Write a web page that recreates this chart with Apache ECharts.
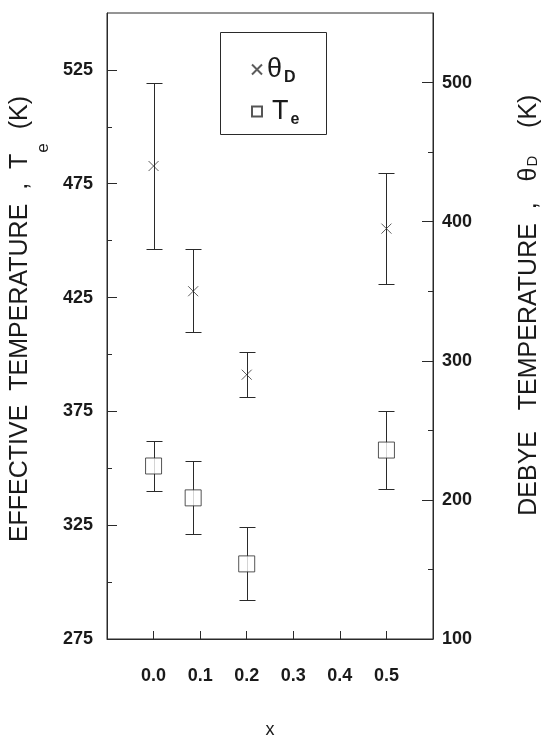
<!DOCTYPE html>
<html><head><meta charset="utf-8">
<script src="https://cdn.jsdelivr.net/npm/echarts@6/dist/echarts.min.js"></script>
<style>html,body{margin:0;padding:0;background:#fff}#c{width:550px;height:735px}</style>
</head><body><div id="c"></div>
<script>
// ---- data ----
const xValues    = [0.0, 0.085, 0.2, 0.5];
const thetaD     = [440, 350, 290, 395];
const thetaDLow  = [380, 321, 274, 355];
const thetaDHigh = [500, 380, 306, 435];
const Te         = [351, 337, 308, 358];
const TeLow      = [340, 321, 292, 341];
const TeHigh     = [362, 353, 324, 375];
const xTicks          = [0.0, 0.1, 0.2, 0.3, 0.4, 0.5];
const leftMajorTicks  = [275, 325, 375, 425, 475, 525];
const leftMinorTicks  = [300, 350, 400, 450, 500];
const rightMajorTicks = [100, 200, 300, 400, 500];
const rightMinorTicks = [150, 250, 350, 450];

const FONT = "'Liberation Sans', Arial, sans-serif";
const INK = '#1a1a1a';
const LINE = '#2a2a2a';

const chart = echarts.init(document.getElementById('c'), null, {renderer: 'canvas'});

function errSeries(yIdx, low, high) {
  return {
    type: 'custom', yAxisIndex: yIdx, silent: true, z: 2,
    data: xValues.map((x, i) => [x, low[i], high[i]]),
    encode: {x: 0, y: [1, 2]},
    renderItem: function (params, api) {
      const x = api.value(0);
      const lo = api.coord([x, api.value(1)]);
      const hi = api.coord([x, api.value(2)]);
      const w = 8;
      const px = Math.round(lo[0]) + 0.5;
      const ly = Math.round(lo[1]) + 0.5, hy = Math.round(hi[1]) + 0.5;
      const style = {stroke: LINE, lineWidth: 1, fill: null};
      return {type: 'group', children: [
        {type: 'line', shape: {x1: px, y1: ly, x2: px, y2: hy}, style: style},
        {type: 'line', shape: {x1: px - w, y1: ly, x2: px + w, y2: ly}, style: style},
        {type: 'line', shape: {x1: px - w, y1: hy, x2: px + w, y2: hy}, style: style}
      ]};
    }
  };
}

const option = {
  animation: false,
  backgroundColor: '#fff',
  grid: {left: 107, right: 117, top: 13, bottom: 96, show: true, borderColor: LINE, borderWidth: 1,
         containLabel: false, outerBoundsMode: 'none'},
  xAxis: {
    type: 'value', min: -0.1, max: 0.6, position: 'bottom',
    axisLine: {show: true, onZero: false, lineStyle: {color: LINE, width: 1}},
    axisTick: {show: true, inside: true, length: 8, customValues: xTicks, lineStyle: {color: LINE}},
    axisLabel: {customValues: xTicks, formatter: v => v.toFixed(1), margin: 28,
                fontSize: 18, fontWeight: 'bold', fontFamily: FONT, color: INK},
    splitLine: {show: false},
    name: 'x', nameLocation: 'middle', nameGap: 82,
    nameTextStyle: {fontSize: 18, fontFamily: FONT, color: INK}
  },
  yAxis: [
    {
      type: 'value', position: 'left', min: 275, max: 550,
      axisLine: {show: true, onZero: false, lineStyle: {color: LINE, width: 1}},
      axisTick: {show: true, inside: true, length: 10, customValues: leftMajorTicks, lineStyle: {color: LINE}},
      axisLabel: {customValues: leftMajorTicks, margin: 14, fontSize: 18, fontWeight: 'bold', fontFamily: FONT, color: INK},
      splitLine: {show: false},
      name: '  EFFECTIVE  TEMPERATURE  ,  T{s|e}  (K)', nameLocation: 'middle', nameRotate: 90, nameGap: 44,
      nameTextStyle: {fontSize: 25, fontFamily: FONT, color: INK,
        rich: {s: {fontSize: 17, fontFamily: FONT, color: INK, padding: [46, 0, 0, 1]}}}
    },
    {
      type: 'value', position: 'right', min: 100, max: 550,
      axisLine: {show: true, onZero: false, lineStyle: {color: LINE, width: 1}},
      axisTick: {show: true, inside: true, length: 11, customValues: rightMajorTicks, lineStyle: {color: LINE}},
      axisLabel: {customValues: rightMajorTicks, margin: 9, fontSize: 18, fontWeight: 'bold', fontFamily: FONT, color: INK},
      splitLine: {show: false},
      name: '      DEBYE   TEMPERATURE  ,   θ{s|D}    (K)', nameLocation: 'middle', nameRotate: 90, nameGap: 84,
      nameTextStyle: {fontSize: 25, fontFamily: FONT, color: INK,
        rich: {s: {fontSize: 15, fontFamily: FONT, color: INK, padding: [6, 0, 0, 1]}}}
    },
    {
      type: 'value', position: 'left', min: 275, max: 550,
      axisLine: {show: false, onZero: false},
      axisTick: {show: true, inside: true, length: 5, customValues: leftMinorTicks, lineStyle: {color: LINE}},
      axisLabel: {show: false}, splitLine: {show: false}
    },
    {
      type: 'value', position: 'right', min: 100, max: 550,
      axisLine: {show: false, onZero: false},
      axisTick: {show: true, inside: true, length: 5, customValues: rightMinorTicks, lineStyle: {color: LINE}},
      axisLabel: {show: false}, splitLine: {show: false}
    }
  ],
  legend: {
    orient: 'vertical', left: 251, top: 56, padding: 0, itemWidth: 10, itemHeight: 10, itemGap: 12,
    selectedMode: false,
    data: ['θD', 'Te'],
    formatter: function (name) {
      return name === 'θD' ? '{m|θ}{s|D}' : '{t|T}{s|e}';
    },
    textStyle: {
      rich: {
        m: {fontSize: 27, fontFamily: FONT, color: INK},
        t: {fontSize: 27, fontFamily: FONT, color: INK, padding: [0, 0, 0, 5]},
        s: {fontSize: 16, fontFamily: FONT, color: INK, fontWeight: 'bold', padding: [17, 0, 0, 2]}
      }
    }
  },
  graphic: [{
    type: 'rect', left: 218, top: 30, z: 10,
    shape: {width: 106, height: 102},
    style: {fill: null, stroke: LINE, lineWidth: 1}
  }],
  series: [
    errSeries(1, thetaDLow, thetaDHigh),
    errSeries(0, TeLow, TeHigh),
    {
      name: 'θD', type: 'scatter', yAxisIndex: 1, z: 3,
      symbol: 'path://M0,0L10,10M10,0L0,10', symbolSize: 10,
      itemStyle: {color: 'rgba(0,0,0,0)', borderColor: '#333', borderWidth: 1},
      emphasis: {disabled: true},
      data: xValues.map((x, i) => [x, thetaD[i]])
    },
    {
      name: 'Te', type: 'scatter', yAxisIndex: 0, z: 4,
      symbol: 'rect', symbolSize: 16,
      itemStyle: {color: '#fff', borderColor: LINE, borderWidth: 1},
      emphasis: {disabled: true},
      data: xValues.map((x, i) => [x, Te[i]])
    }
  ]
};
chart.setOption(option);
</script>
</body></html>
